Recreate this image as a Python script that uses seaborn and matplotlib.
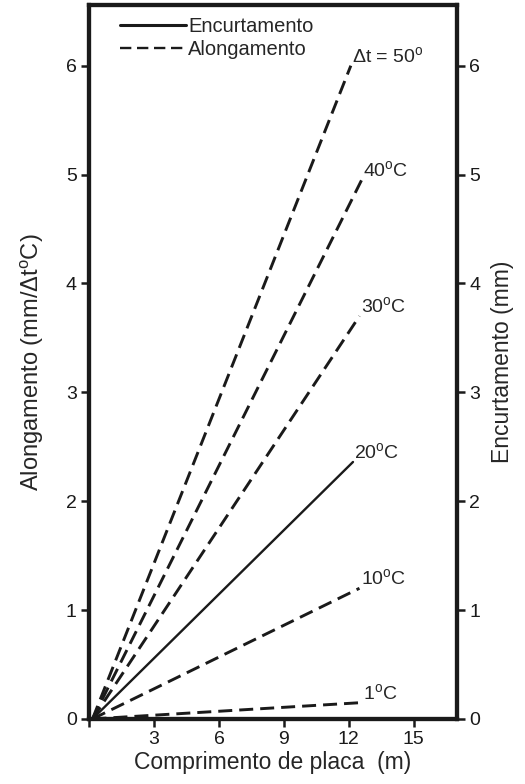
import matplotlib
matplotlib.use("Agg")
import matplotlib.pyplot as plt
import seaborn as sns

# delta t for each line and where it ends
temps = [50, 40, 30, 20, 10, 1]
end_x = [12.1, 12.6, 12.5, 12.2, 12.5, 12.6]
end_y = [6.0, 4.95, 3.70, 2.36, 1.20, 0.15]
kinds = ["Alongamento", "Alongamento", "Alongamento", "Encurtamento", "Alongamento", "Alongamento"]
labels = [r"$\Delta$t = 50$^\mathregular{o}$", r"40$^\mathregular{o}$C", r"30$^\mathregular{o}$C",
          r"20$^\mathregular{o}$C", r"10$^\mathregular{o}$C", r"1$^\mathregular{o}$C"]

x_ticks = [0, 3, 6, 9, 12, 15]
x_ticklabels = ["", "3", "6", "9", "12", "15"]
y_ticks = [0, 1, 2, 3, 4, 5, 6]

sns.set_theme(style="white")
plt.rcParams["font.family"] = ["Liberation Sans", "DejaVu Sans"]
plt.rcParams["mathtext.fontset"] = "custom"
plt.rcParams["mathtext.rm"] = "Liberation Sans"
plt.rcParams["mathtext.it"] = "Liberation Sans"

fig = plt.figure(figsize=(5.25, 7.84), dpi=100)
ax = fig.add_axes([0.170, 0.083, 0.700, 0.911])

dash = (0, (4.8, 2.4))
for t, xe, ye, kind in zip(temps, end_x, end_y, kinds):
    if kind == "Encurtamento":
        sns.lineplot(x=[0.15, xe], y=[0.0, ye], ax=ax, color="#1a1a1a", lw=1.7)
    else:
        sns.lineplot(x=[0.15, xe], y=[0.0, ye], ax=ax, color="#1a1a1a", lw=2.1,
                     linestyle=dash)

for lab, xe, ye, t in zip(labels, end_x, end_y, temps):
    ax.annotate(lab, (xe, ye), xytext=(1, 0), textcoords="offset points",
                fontsize=14, ha="left", va="bottom")

# legend handles
ax.plot([], [], color="#1a1a1a", lw=2.2, label="Encurtamento")
ax.plot([], [], color="#1a1a1a", lw=1.7, linestyle=dash, label="Alongamento")
ax.legend(loc="upper left", frameon=False, fontsize=14.5, handlelength=3.3,
          handletextpad=0.1, labelspacing=0.2, borderaxespad=0.2,
          bbox_to_anchor=(0.05, 1.0))

ax.set_xlim(0, 17)
ax.set_ylim(0, 6.56)
ax.set_xticks(x_ticks)
ax.set_xticklabels(x_ticklabels)
ax.set_yticks(y_ticks)
ax.set_xlabel("Comprimento de placa  (m)", fontsize=16.5, labelpad=2)
ax.set_ylabel(r"Alongamento (mm/$\Delta$t$^\mathregular{o}$C)", fontsize=17, labelpad=14)

ax2 = ax.twinx()
ax2.set_ylim(0, 6.56)
ax2.set_yticks(y_ticks)
ax2.set_ylabel("Encurtamento (mm)", fontsize=16.5, labelpad=8)

for a in (ax, ax2):
    for s in a.spines.values():
        s.set_linewidth(3.0)
        s.set_color("#1a1a1a")
    a.tick_params(direction="out", length=5.5, width=1.8, labelsize=14,
                  colors="#1a1a1a", pad=3.5)
ax.tick_params(axis="both", left=True, bottom=True)
ax2.tick_params(axis="y", right=True)

fig.savefig("out.png", dpi=100)
